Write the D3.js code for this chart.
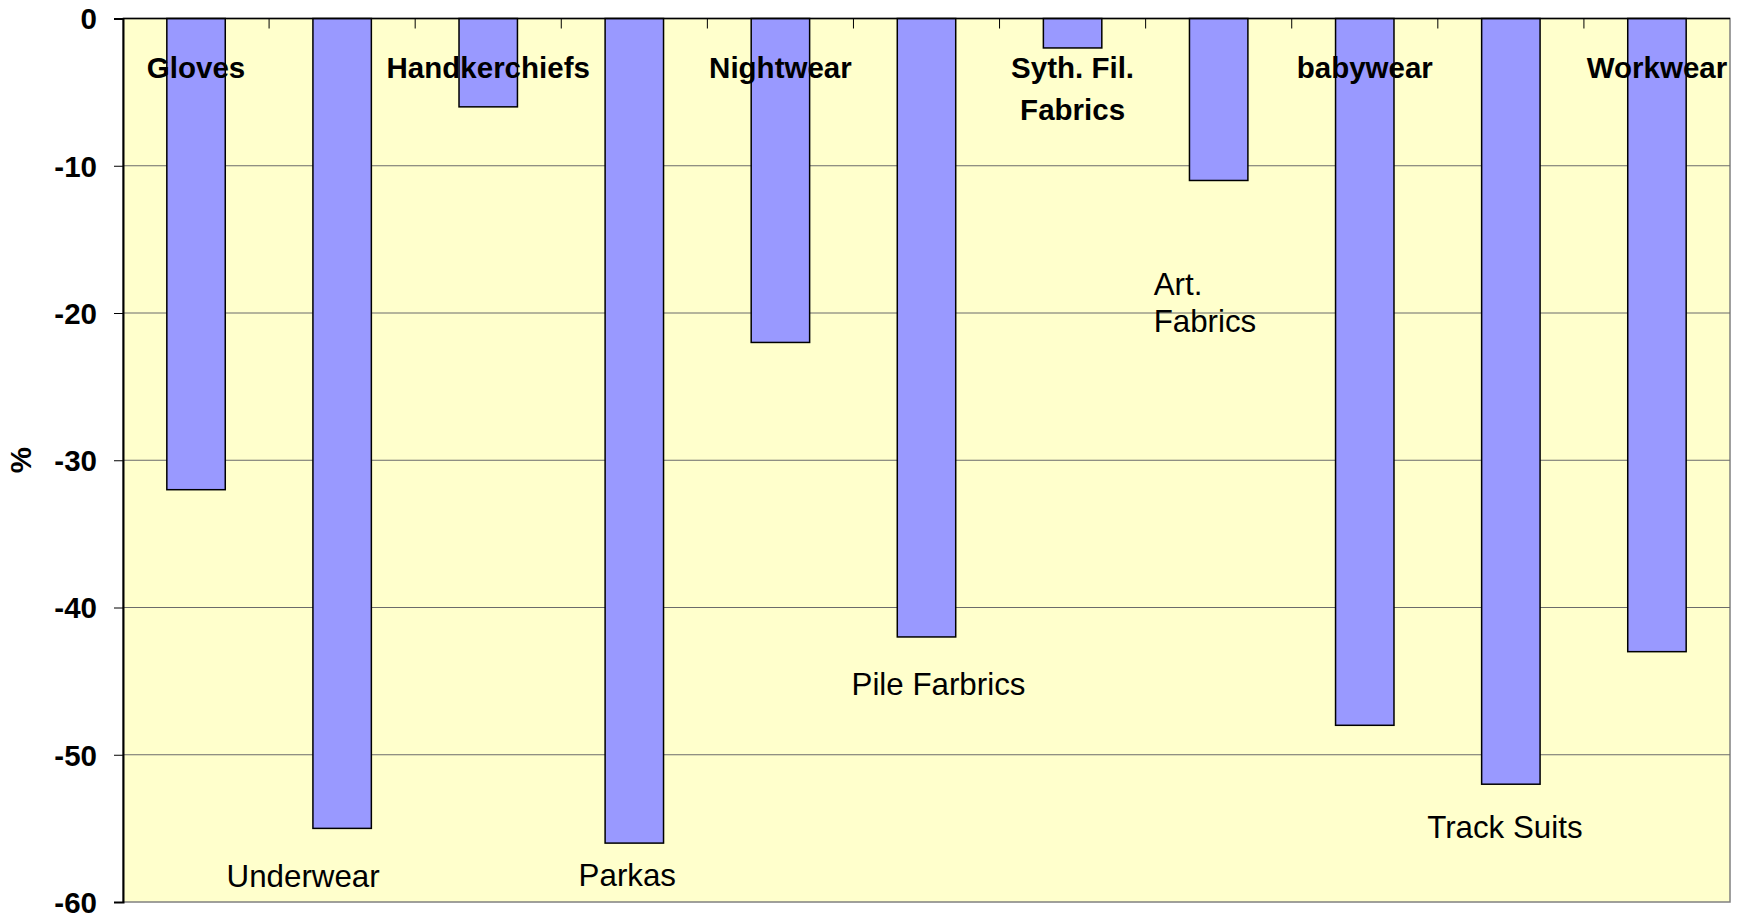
<!DOCTYPE html>
<html>
<head>
<meta charset="utf-8">
<script src="https://cdn.jsdelivr.net/npm/d3@7"></script>
<style>
  html, body { margin: 0; padding: 0; background: #ffffff; }
  svg { display: block; }
  text { font-family: "Liberation Sans", Arial, sans-serif; fill: #000; }
</style>
</head>
<body>
<svg id="chart" width="1739" height="923"></svg>
<script>
// Percentage change by product group
const categories = ["Gloves", "Underwear", "Handkerchiefs", "Parkas", "Nightwear",
  "Pile Farbrics", "Syth. Fil. Fabrics", "Art. Fabrics", "babywear", "Track Suits", "Workwear"];
const values = [-32, -55, -6, -56, -22, -42, -2, -11, -48, -52, -43];
const yTicks = [0, -10, -20, -30, -40, -50, -60];
const yTitle = "%";

// Category label text, split into lines
const labelLines = [["Gloves"], ["Underwear"], ["Handkerchiefs"], ["Parkas"], ["Nightwear"],
  ["Pile Farbrics"], ["Syth. Fil.", "Fabrics"], ["Art.", "Fabrics"], ["babywear"], ["Track Suits"], ["Workwear"]];

// Label placement: bold labels sit at the top, the others below the bars
const labelPlacement = [
  { bold: true,  dx: 0,   y: -4.04, anchor: "middle" },
  { bold: false, dx: -39, y: -58.96, anchor: "middle" },
  { bold: true,  dx: 0,   y: -4.04, anchor: "middle" },
  { bold: false, dx: -7,  y: -58.9, anchor: "middle" },
  { bold: true,  dx: 0,   y: -4.04, anchor: "middle" },
  { bold: false, dx: 12,  y: -45.97, anchor: "middle" },
  { bold: true,  dx: 0,   y: -4.04, anchor: "middle" },
  { bold: false, dx: -65, y: -18.77, anchor: "start" },
  { bold: true,  dx: 0,   y: -4.04, anchor: "middle" },
  { bold: false, dx: -6,  y: -55.66, anchor: "middle" },
  { bold: true,  dx: 0,   y: -4.04, anchor: "middle" }
];

const svg = d3.select("#chart");
const plot = { left: 123, right: 1730, top: 18.5, bottom: 902 };

const x = d3.scaleBand()
  .domain(categories)
  .range([plot.left, plot.right])
  .paddingInner(0.6)
  .paddingOuter(0.3);

const y = d3.scaleLinear()
  .domain([0, -60])
  .range([plot.top, plot.bottom]);

// Plot area background
svg.append("rect")
  .attr("x", plot.left).attr("y", plot.top)
  .attr("width", plot.right - plot.left).attr("height", plot.bottom - plot.top)
  .attr("fill", "#FFFFCC")
  .attr("stroke", "#808080").attr("stroke-width", 1.5);

// Horizontal gridlines
svg.append("g")
  .selectAll("line")
  .data(yTicks.filter(t => t !== 0 && t !== -60))
  .join("line")
  .attr("x1", plot.left).attr("x2", plot.right)
  .attr("y1", d => y(d)).attr("y2", d => y(d))
  .attr("stroke", "#6b6b6b").attr("stroke-width", 1);

// Bars
svg.append("g")
  .selectAll("rect")
  .data(values)
  .join("rect")
  .attr("x", (d, i) => x(categories[i]))
  .attr("y", y(0))
  .attr("width", x.bandwidth())
  .attr("height", d => y(d) - y(0))
  .attr("fill", "#9999FF")
  .attr("stroke", "#000").attr("stroke-width", 1.5);

// Y axis (plain hyphen for negative numbers)
const yAxis = d3.axisLeft(y)
  .tickValues(yTicks)
  .tickSize(9)
  .tickPadding(17)
  .tickFormat(d => String(d));
const gy = svg.append("g")
  .attr("transform", `translate(${plot.left},0)`)
  .call(yAxis);
gy.select(".domain").attr("stroke", "#000").attr("stroke-width", 2);
gy.selectAll(".tick line").attr("stroke", "#000").attr("stroke-width", 1);
gy.selectAll(".tick text")
  .style("font-family", "'Liberation Sans', Arial, sans-serif")
  .style("font-size", "29.5px")
  .style("font-weight", "bold")
  .attr("dy", "0.35em");

// X axis along the zero line with inward ticks between categories
const xBounds = categories.slice(1).map(c => x(c) - x.step() * x.paddingInner() / 2);
svg.append("line")
  .attr("x1", plot.left).attr("x2", plot.right)
  .attr("y1", y(0)).attr("y2", y(0))
  .attr("stroke", "#000").attr("stroke-width", 1.5);
svg.append("g")
  .selectAll("line")
  .data(xBounds)
  .join("line")
  .attr("x1", d => d).attr("x2", d => d)
  .attr("y1", y(0)).attr("y2", y(0) + 10)
  .attr("stroke", "#000").attr("stroke-width", 1);

// Y axis title
svg.append("text")
  .attr("transform", `translate(31, ${(plot.top + plot.bottom) / 2}) rotate(-90)`)
  .attr("text-anchor", "middle")
  .style("font-size", "29.5px")
  .style("font-weight", "bold")
  .text(yTitle);

// Category labels
const lbl = svg.append("g");
categories.forEach((c, i) => {
  const p = labelPlacement[i];
  const cx = x(c) + x.bandwidth() / 2 + p.dx;
  const t = lbl.append("text")
    .attr("x", cx)
    .attr("y", y(p.y))
    .attr("text-anchor", p.anchor)
    .style("font-size", p.bold ? "29.5px" : "31.3px")
    .style("font-weight", p.bold ? "bold" : "normal");
  labelLines[i].forEach((line, j) => {
    t.append("tspan")
      .attr("x", cx)
      .attr("dy", j === 0 ? 0 : (p.bold ? 41.7 : 36.7))
      .text(line);
  });
});
</script>
</body>
</html>
